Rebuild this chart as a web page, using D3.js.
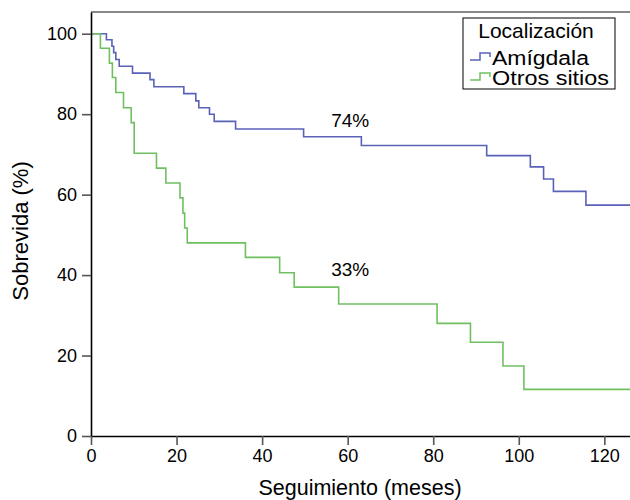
<!DOCTYPE html>
<html>
<head>
<meta charset="utf-8">
<script src="https://cdn.jsdelivr.net/npm/d3@7"></script>
<style>
  body { margin: 0; background: #fff; }
  svg text { font-family: "Liberation Sans", Arial, sans-serif; fill: #000; }
</style>
</head>
<body>
<div id="chart"></div>
<script>
// Kaplan-Meier steps (months, % surviving)
var amigdalaT = [0, 3.6, 4.9, 5.3, 5.8, 6.6, 9.7, 13.8, 14.7, 21.7, 24.5, 25.2, 27.7, 28.8, 33.8, 49.7, 63.2, 92.5, 102.7, 105.8, 108.1, 115.7, 126];
var amigdalaS = [100, 98.5, 96.9, 95.3, 93.6, 91.9, 90.2, 88.6, 86.8, 85.1, 83.3, 81.6, 80.0, 78.2, 76.3, 74.4, 72.2, 69.7, 66.9, 63.9, 60.8, 57.4, 57.4];

var otrosT = [0, 2.2, 4.3, 5.0, 5.8, 7.6, 9.4, 10.1, 15.3, 17.5, 20.8, 21.5, 21.9, 22.5, 36.1, 44.1, 47.5, 57.9, 80.9, 88.7, 96.3, 101.2, 126];
var otrosS = [100, 96.4, 92.7, 89.1, 85.4, 81.6, 77.9, 70.3, 66.6, 62.9, 59.2, 55.4, 51.7, 48.0, 44.4, 40.6, 37.0, 32.8, 28.0, 23.3, 17.4, 11.6, 11.6];

var xTicks = [0, 20, 40, 60, 80, 100, 120];
var yTicks = [0, 20, 40, 60, 80, 100];
var seriesNames = ["Amígdala", "Otros sitios"];
var seriesColors = ["#5a62b8", "#6fc061"];
var pctLabels = ["74%", "33%"];

var width = 630, height = 500;

var svg = d3.select("#chart")
    .append("svg")
    .attr("width", width)
    .attr("height", height);

var x = d3.scaleLinear().domain([0, 126]).range([91, 630]);
var y = d3.scaleLinear().domain([0, 105.4]).range([436, 12]);

// frame top
svg.append("line")
    .attr("x1", x(0)).attr("x2", x(126))
    .attr("y1", y(105.4)).attr("y2", y(105.4))
    .attr("stroke", "#888").attr("stroke-width", 2);

var series = [
    d3.zip(amigdalaT, amigdalaS),
    d3.zip(otrosT, otrosS)
];

var line = d3.line()
    .x(function(d){ return x(d[0]); })
    .y(function(d){ return y(d[1]); })
    .curve(d3.curveStepAfter);

svg.selectAll(".km")
    .data(series)
    .enter().append("path")
    .attr("class", "km")
    .attr("d", line)
    .attr("fill", "none")
    .attr("stroke", function(d, i){ return seriesColors[i]; })
    .attr("stroke-width", 1.6);

// axes
var yAxis = svg.append("g")
    .attr("transform", "translate(" + x(0) + ",0)")
    .call(d3.axisLeft(y).tickValues(yTicks).tickSize(9).tickPadding(5).tickSizeOuter(0));
var xAxis = svg.append("g")
    .attr("transform", "translate(0," + y(0) + ")")
    .call(d3.axisBottom(x).tickValues(xTicks).tickSize(9).tickPadding(4).tickSizeOuter(0));

[xAxis, yAxis].forEach(function(ax){
    ax.select(".domain").attr("stroke", "#000").attr("stroke-width", 1.6);
    ax.selectAll(".tick line").attr("stroke", "#555").attr("stroke-width", 1.6);
    ax.selectAll(".tick text")
      .attr("font-size", 18)
      .attr("font-family", "Liberation Sans, Arial, sans-serif")
      .attr("fill", "#000");
});

svg.append("text")
    .attr("x", 360).attr("y", 495)
    .attr("text-anchor", "middle")
    .attr("font-size", 21.5)
    .text("Seguimiento (meses)");

svg.append("text")
    .attr("transform", "translate(28,231) rotate(-90)")
    .attr("text-anchor", "middle")
    .attr("font-size", 22)
    .text("Sobrevida (%)");

// percentage labels, placed above the curves near 57 months
svg.selectAll(".pct")
    .data(pctLabels)
    .enter().append("text")
    .attr("class", "pct")
    .attr("x", x(60.6))
    .attr("y", function(d, i){ return [127, 276][i]; })
    .attr("text-anchor", "middle")
    .attr("font-size", 19)
    .text(function(d){ return d; });

// legend
var legend = svg.append("g").attr("transform", "translate(463,18)");
legend.append("rect")
    .attr("width", 152).attr("height", 71)
    .attr("fill", "#fff").attr("stroke", "#000").attr("stroke-width", 1);
legend.append("text")
    .attr("x", 73).attr("y", 20)
    .attr("text-anchor", "middle")
    .attr("font-size", 21)
    .text("Localización");

var items = legend.selectAll(".item")
    .data(seriesNames)
    .enter().append("g")
    .attr("class", "item")
    .attr("transform", function(d, i){ return "translate(0," + (i * 20) + ")"; });
items.append("path")
    .attr("d", "M7,42 H17 V35 H27 V39")
    .attr("fill", "none")
    .attr("stroke", function(d, i){ return seriesColors[i]; })
    .attr("stroke-width", 1.5);
items.append("text")
    .attr("x", 29).attr("y", 47)
    .attr("font-size", 20)
    .attr("textLength", function(d, i){ return [97, 117][i]; })
    .attr("lengthAdjust", "spacingAndGlyphs")
    .text(function(d){ return d; });
</script>
</body>
</html>
